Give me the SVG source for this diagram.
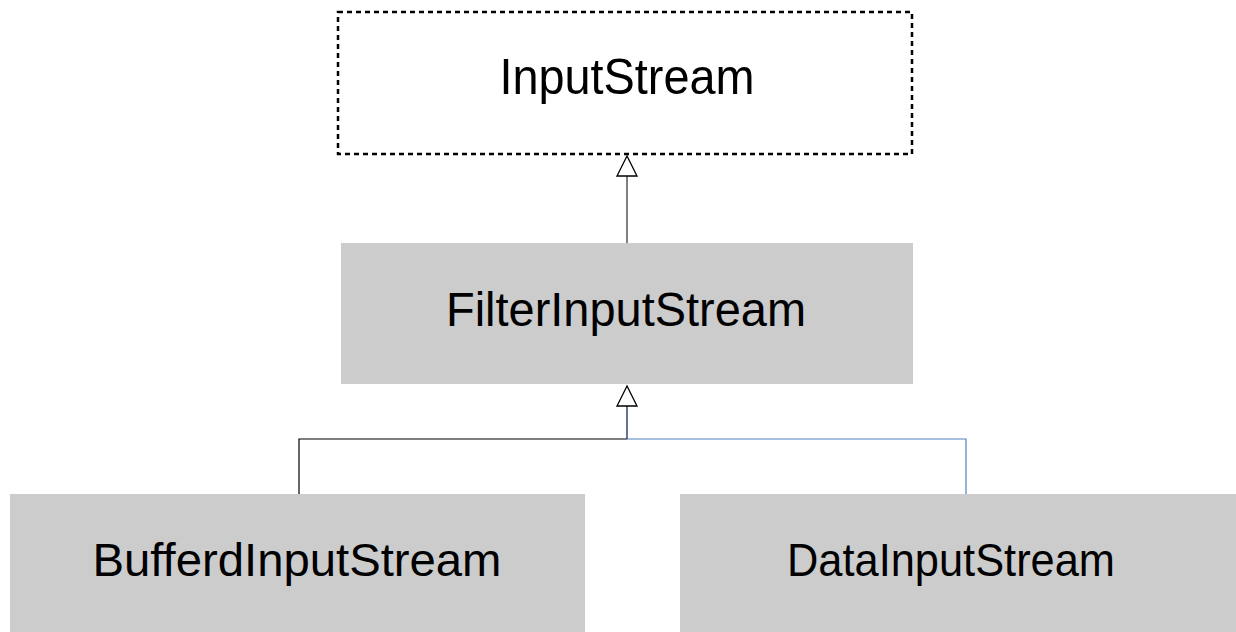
<svg xmlns="http://www.w3.org/2000/svg" width="1236" height="632" viewBox="0 0 1236 632">
<style>
.lbl{font-family:"Liberation Sans",Arial,sans-serif;font-size:47px;fill:#000;text-anchor:middle}
.box{fill:#cccccc;stroke:none}
.tri{fill:#fff;stroke:#000;stroke-width:1.3}
</style>
<rect width="1236" height="632" fill="#fff"/>
<g id="connectors">
<line x1="627" y1="243" x2="627" y2="176" stroke="#000" stroke-width="1"/>
<polygon class="tri" points="627,156 617,176 637,176"/>
<polyline points="299,494 299,439 627,439" fill="none" stroke="#000" stroke-width="1.2"/>
<polyline points="966,494 966,439 627,439" fill="none" stroke="#4f81bd" stroke-width="1.2"/>
<line x1="627" y1="439" x2="627" y2="406" stroke="#3a5078" stroke-width="1.6"/>
<polygon class="tri" points="627,386 617,406 637,406"/>
</g>
<g id="InputStream">
<rect x="338" y="12" width="574" height="142" fill="#fff" stroke="#000" stroke-width="2.5" stroke-dasharray="5,4"/>
<text class="lbl" x="627" y="94" style="font-size:50px" textLength="255" lengthAdjust="spacingAndGlyphs">InputStream</text>
</g>
<g id="FilterInputStream">
<rect class="box" x="341" y="243" width="572" height="141"/>
<text class="lbl" x="626" y="326" style="font-size:48px" textLength="360" lengthAdjust="spacingAndGlyphs">FilterInputStream</text>
</g>
<g id="BufferdInputStream">
<rect class="box" x="10" y="494" width="575" height="145"/>
<text class="lbl" x="297" y="576" textLength="409" lengthAdjust="spacingAndGlyphs">BufferdInputStream</text>
</g>
<g id="DataInputStream">
<rect class="box" x="680" y="494" width="560" height="145"/>
<text class="lbl" x="951" y="576" textLength="328" lengthAdjust="spacingAndGlyphs">DataInputStream</text>
</g>
</svg>
